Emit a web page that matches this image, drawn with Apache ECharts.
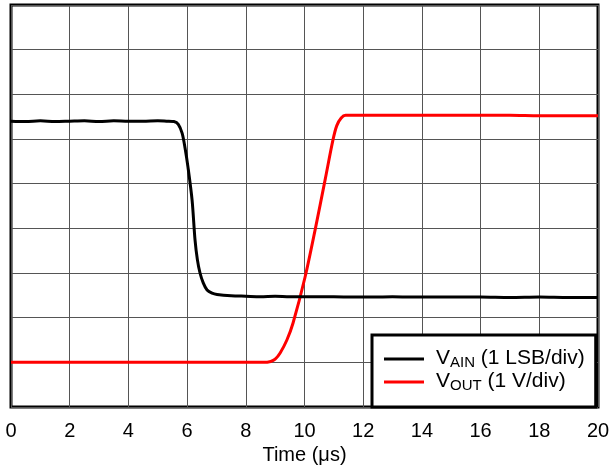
<!DOCTYPE html>
<html><head><meta charset="utf-8">
<script src="https://cdn.jsdelivr.net/npm/echarts@6/dist/echarts.min.js"></script>
<style>html,body{margin:0;padding:0;background:#fff}#c{width:611px;height:472px}</style>
</head><body><div id="c"></div>
<script>
const xTicks = [0,2,4,6,8,10,12,14,16,18,20];
const vainT = [0,0.5,1,1.5,2,2.5,3,3.5,4,4.5,5,5.3,5.55,5.7,5.83,5.93,6.03,6.17,6.27,6.35,6.44,6.55,6.68,6.85,7.02,7.5,8,8.5,9,9.5,10,11,12,13,14,15,16,17,18,19,20];
const vainY = [6.40,6.39,6.41,6.39,6.40,6.41,6.39,6.41,6.40,6.40,6.41,6.40,6.39,6.33,6.13,5.80,5.37,4.63,3.74,3.30,3.00,2.78,2.62,2.55,2.52,2.49,2.48,2.47,2.48,2.47,2.47,2.47,2.46,2.47,2.46,2.46,2.46,2.45,2.46,2.45,2.45];
const voutT = [0,1,2,3,4,5,6,7,8,8.6,8.85,9.0,9.17,9.4,9.61,10.02,10.36,10.7,10.97,11.1,11.25,11.4,12,13,14,15,16,17,18,19,20];
const voutY = [1.00,1.00,1.00,1.00,1.00,1.00,1.00,1.00,1.00,1.00,1.02,1.07,1.21,1.50,1.88,2.91,3.96,5.08,5.98,6.30,6.47,6.53,6.53,6.53,6.53,6.53,6.53,6.53,6.52,6.52,6.52];
const names = ['AIN (1 LSB/div)','OUT (1 V/div)'];

const FONT = 'Liberation Sans, Arial, sans-serif';
const chart = echarts.init(document.getElementById('c'), null, {renderer:'canvas'});
const pair = (t,y)=>t.map((v,i)=>[v,y[i]]);
chart.setOption({
  animation:false,
  grid:{left:11,right:13,top:5,bottom:65,outerBoundsMode:'none',containLabel:false,
    show:true,borderColor:'#000',borderWidth:3,backgroundColor:'#fff'},
  xAxis:{type:'value',min:0,max:20,interval:2,
    axisLine:{show:false},axisTick:{show:false},
    splitLine:{show:true,lineStyle:{color:'#555',width:1}},
    axisLabel:{fontSize:20,color:'#000',fontFamily:FONT,margin:14,
      formatter:v=>xTicks.includes(v)?String(v):''},
    name:'Time (\u03bcs)',nameLocation:'middle',nameGap:38,
    nameTextStyle:{fontSize:20,color:'#000',fontFamily:FONT}},
  yAxis:{type:'value',min:0,max:9,interval:1,
    axisLine:{show:false},axisTick:{show:false},axisLabel:{show:false},
    splitLine:{show:true,lineStyle:{color:'#555',width:1}}},
  legend:{left:372,top:335,orient:'vertical',
    backgroundColor:'#fff',borderColor:'#000',borderWidth:3,borderRadius:0,
    padding:[13,11,14,12],itemGap:1,itemWidth:40,itemHeight:3,icon:'rect',
    data:[{name:names[0]},{name:names[1]}],
    formatter:n=>'{v|V}{s|'+n.split(' ')[0]+'}{t|'+n.slice(n.indexOf(' '))+'}',
    textStyle:{color:'#000',fontFamily:FONT,padding:[0,0,0,7],
      rich:{v:{fontSize:21,lineHeight:22,verticalAlign:'top',fontFamily:FONT},
            s:{fontSize:15,lineHeight:22,verticalAlign:'bottom',fontFamily:FONT},
            t:{fontSize:21,lineHeight:22,verticalAlign:'top',fontFamily:FONT}}}},
  series:[
    {name:names[0],type:'line',data:pair(vainT,vainY),showSymbol:false,smooth:0.3,
      lineStyle:{color:'#000',width:3},itemStyle:{color:'#000'},z:3},
    {name:names[1],type:'line',data:pair(voutT,voutY),showSymbol:false,smooth:0.3,
      lineStyle:{color:'#ff0000',width:3},itemStyle:{color:'#ff0000'},z:2}
  ]
});
</script></body></html>
